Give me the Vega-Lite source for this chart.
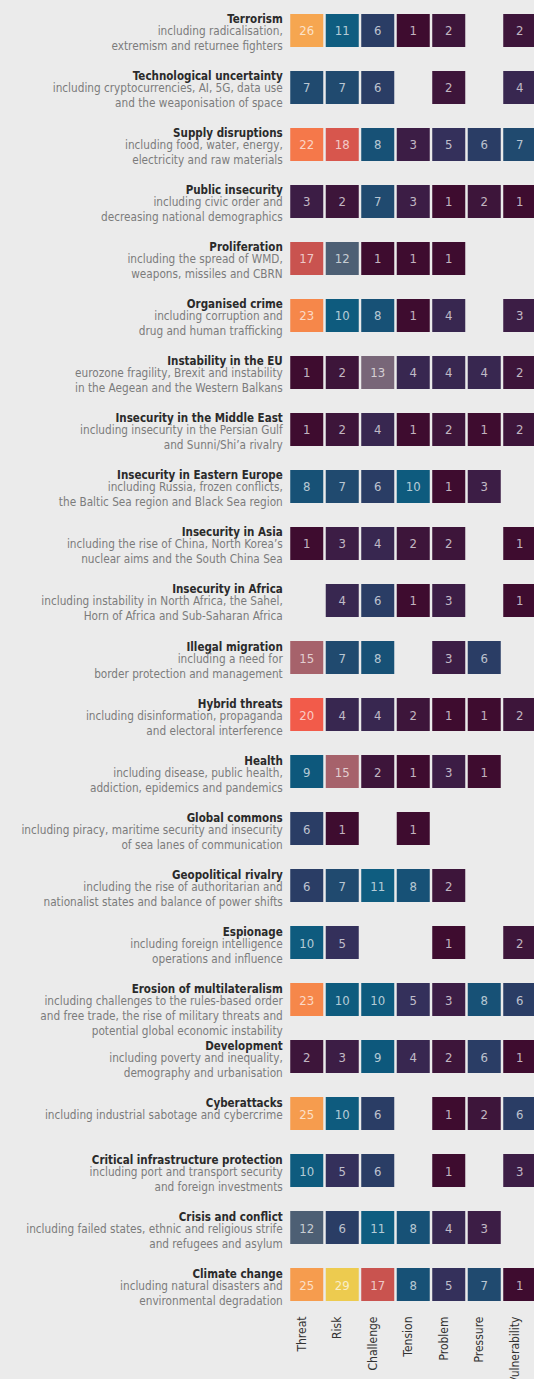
{
  "$schema": "https://vega.github.io/schema/vega-lite/v6.json",
  "autosize": "none",
  "padding": {"left": 289, "top": 2, "right": 0, "bottom": 66},
  "width": 245,
  "height": 1311,
  "background": "#ebebeb",
  "config": {"view": {"stroke": null}, "font": "DejaVu Sans Condensed, sans-serif"},
  "datasets": {
    "cells": [
      {"topic": "Terrorism", "term": "Threat", "n": 26},
      {"topic": "Terrorism", "term": "Risk", "n": 11},
      {"topic": "Terrorism", "term": "Challenge", "n": 6},
      {"topic": "Terrorism", "term": "Tension", "n": 1},
      {"topic": "Terrorism", "term": "Problem", "n": 2},
      {"topic": "Terrorism", "term": "Vulnerability", "n": 2},
      {"topic": "Technological uncertainty", "term": "Threat", "n": 7},
      {"topic": "Technological uncertainty", "term": "Risk", "n": 7},
      {"topic": "Technological uncertainty", "term": "Challenge", "n": 6},
      {"topic": "Technological uncertainty", "term": "Problem", "n": 2},
      {"topic": "Technological uncertainty", "term": "Vulnerability", "n": 4},
      {"topic": "Supply disruptions", "term": "Threat", "n": 22},
      {"topic": "Supply disruptions", "term": "Risk", "n": 18},
      {"topic": "Supply disruptions", "term": "Challenge", "n": 8},
      {"topic": "Supply disruptions", "term": "Tension", "n": 3},
      {"topic": "Supply disruptions", "term": "Problem", "n": 5},
      {"topic": "Supply disruptions", "term": "Pressure", "n": 6},
      {"topic": "Supply disruptions", "term": "Vulnerability", "n": 7},
      {"topic": "Public insecurity", "term": "Threat", "n": 3},
      {"topic": "Public insecurity", "term": "Risk", "n": 2},
      {"topic": "Public insecurity", "term": "Challenge", "n": 7},
      {"topic": "Public insecurity", "term": "Tension", "n": 3},
      {"topic": "Public insecurity", "term": "Problem", "n": 1},
      {"topic": "Public insecurity", "term": "Pressure", "n": 2},
      {"topic": "Public insecurity", "term": "Vulnerability", "n": 1},
      {"topic": "Proliferation", "term": "Threat", "n": 17},
      {"topic": "Proliferation", "term": "Risk", "n": 12},
      {"topic": "Proliferation", "term": "Challenge", "n": 1},
      {"topic": "Proliferation", "term": "Tension", "n": 1},
      {"topic": "Proliferation", "term": "Problem", "n": 1},
      {"topic": "Organised crime", "term": "Threat", "n": 23},
      {"topic": "Organised crime", "term": "Risk", "n": 10},
      {"topic": "Organised crime", "term": "Challenge", "n": 8},
      {"topic": "Organised crime", "term": "Tension", "n": 1},
      {"topic": "Organised crime", "term": "Problem", "n": 4},
      {"topic": "Organised crime", "term": "Vulnerability", "n": 3},
      {"topic": "Instability in the EU", "term": "Threat", "n": 1},
      {"topic": "Instability in the EU", "term": "Risk", "n": 2},
      {"topic": "Instability in the EU", "term": "Challenge", "n": 13},
      {"topic": "Instability in the EU", "term": "Tension", "n": 4},
      {"topic": "Instability in the EU", "term": "Problem", "n": 4},
      {"topic": "Instability in the EU", "term": "Pressure", "n": 4},
      {"topic": "Instability in the EU", "term": "Vulnerability", "n": 2},
      {"topic": "Insecurity in the Middle East", "term": "Threat", "n": 1},
      {"topic": "Insecurity in the Middle East", "term": "Risk", "n": 2},
      {"topic": "Insecurity in the Middle East", "term": "Challenge", "n": 4},
      {"topic": "Insecurity in the Middle East", "term": "Tension", "n": 1},
      {"topic": "Insecurity in the Middle East", "term": "Problem", "n": 2},
      {"topic": "Insecurity in the Middle East", "term": "Pressure", "n": 1},
      {"topic": "Insecurity in the Middle East", "term": "Vulnerability", "n": 2},
      {"topic": "Insecurity in Eastern Europe", "term": "Threat", "n": 8},
      {"topic": "Insecurity in Eastern Europe", "term": "Risk", "n": 7},
      {"topic": "Insecurity in Eastern Europe", "term": "Challenge", "n": 6},
      {"topic": "Insecurity in Eastern Europe", "term": "Tension", "n": 10},
      {"topic": "Insecurity in Eastern Europe", "term": "Problem", "n": 1},
      {"topic": "Insecurity in Eastern Europe", "term": "Pressure", "n": 3},
      {"topic": "Insecurity in Asia", "term": "Threat", "n": 1},
      {"topic": "Insecurity in Asia", "term": "Risk", "n": 3},
      {"topic": "Insecurity in Asia", "term": "Challenge", "n": 4},
      {"topic": "Insecurity in Asia", "term": "Tension", "n": 2},
      {"topic": "Insecurity in Asia", "term": "Problem", "n": 2},
      {"topic": "Insecurity in Asia", "term": "Vulnerability", "n": 1},
      {"topic": "Insecurity in Africa", "term": "Risk", "n": 4},
      {"topic": "Insecurity in Africa", "term": "Challenge", "n": 6},
      {"topic": "Insecurity in Africa", "term": "Tension", "n": 1},
      {"topic": "Insecurity in Africa", "term": "Problem", "n": 3},
      {"topic": "Insecurity in Africa", "term": "Vulnerability", "n": 1},
      {"topic": "Illegal migration", "term": "Threat", "n": 15},
      {"topic": "Illegal migration", "term": "Risk", "n": 7},
      {"topic": "Illegal migration", "term": "Challenge", "n": 8},
      {"topic": "Illegal migration", "term": "Problem", "n": 3},
      {"topic": "Illegal migration", "term": "Pressure", "n": 6},
      {"topic": "Hybrid threats", "term": "Threat", "n": 20},
      {"topic": "Hybrid threats", "term": "Risk", "n": 4},
      {"topic": "Hybrid threats", "term": "Challenge", "n": 4},
      {"topic": "Hybrid threats", "term": "Tension", "n": 2},
      {"topic": "Hybrid threats", "term": "Problem", "n": 1},
      {"topic": "Hybrid threats", "term": "Pressure", "n": 1},
      {"topic": "Hybrid threats", "term": "Vulnerability", "n": 2},
      {"topic": "Health", "term": "Threat", "n": 9},
      {"topic": "Health", "term": "Risk", "n": 15},
      {"topic": "Health", "term": "Challenge", "n": 2},
      {"topic": "Health", "term": "Tension", "n": 1},
      {"topic": "Health", "term": "Problem", "n": 3},
      {"topic": "Health", "term": "Pressure", "n": 1},
      {"topic": "Global commons", "term": "Threat", "n": 6},
      {"topic": "Global commons", "term": "Risk", "n": 1},
      {"topic": "Global commons", "term": "Tension", "n": 1},
      {"topic": "Geopolitical rivalry", "term": "Threat", "n": 6},
      {"topic": "Geopolitical rivalry", "term": "Risk", "n": 7},
      {"topic": "Geopolitical rivalry", "term": "Challenge", "n": 11},
      {"topic": "Geopolitical rivalry", "term": "Tension", "n": 8},
      {"topic": "Geopolitical rivalry", "term": "Problem", "n": 2},
      {"topic": "Espionage", "term": "Threat", "n": 10},
      {"topic": "Espionage", "term": "Risk", "n": 5},
      {"topic": "Espionage", "term": "Problem", "n": 1},
      {"topic": "Espionage", "term": "Vulnerability", "n": 2},
      {"topic": "Erosion of multilateralism", "term": "Threat", "n": 23},
      {"topic": "Erosion of multilateralism", "term": "Risk", "n": 10},
      {"topic": "Erosion of multilateralism", "term": "Challenge", "n": 10},
      {"topic": "Erosion of multilateralism", "term": "Tension", "n": 5},
      {"topic": "Erosion of multilateralism", "term": "Problem", "n": 3},
      {"topic": "Erosion of multilateralism", "term": "Pressure", "n": 8},
      {"topic": "Erosion of multilateralism", "term": "Vulnerability", "n": 6},
      {"topic": "Development", "term": "Threat", "n": 2},
      {"topic": "Development", "term": "Risk", "n": 3},
      {"topic": "Development", "term": "Challenge", "n": 9},
      {"topic": "Development", "term": "Tension", "n": 4},
      {"topic": "Development", "term": "Problem", "n": 2},
      {"topic": "Development", "term": "Pressure", "n": 6},
      {"topic": "Development", "term": "Vulnerability", "n": 1},
      {"topic": "Cyberattacks", "term": "Threat", "n": 25},
      {"topic": "Cyberattacks", "term": "Risk", "n": 10},
      {"topic": "Cyberattacks", "term": "Challenge", "n": 6},
      {"topic": "Cyberattacks", "term": "Problem", "n": 1},
      {"topic": "Cyberattacks", "term": "Pressure", "n": 2},
      {"topic": "Cyberattacks", "term": "Vulnerability", "n": 6},
      {"topic": "Critical infrastructure protection", "term": "Threat", "n": 10},
      {"topic": "Critical infrastructure protection", "term": "Risk", "n": 5},
      {"topic": "Critical infrastructure protection", "term": "Challenge", "n": 6},
      {"topic": "Critical infrastructure protection", "term": "Problem", "n": 1},
      {"topic": "Critical infrastructure protection", "term": "Vulnerability", "n": 3},
      {"topic": "Crisis and conflict", "term": "Threat", "n": 12},
      {"topic": "Crisis and conflict", "term": "Risk", "n": 6},
      {"topic": "Crisis and conflict", "term": "Challenge", "n": 11},
      {"topic": "Crisis and conflict", "term": "Tension", "n": 8},
      {"topic": "Crisis and conflict", "term": "Problem", "n": 4},
      {"topic": "Crisis and conflict", "term": "Pressure", "n": 3},
      {"topic": "Climate change", "term": "Threat", "n": 25},
      {"topic": "Climate change", "term": "Risk", "n": 29},
      {"topic": "Climate change", "term": "Challenge", "n": 17},
      {"topic": "Climate change", "term": "Tension", "n": 8},
      {"topic": "Climate change", "term": "Problem", "n": 5},
      {"topic": "Climate change", "term": "Pressure", "n": 7},
      {"topic": "Climate change", "term": "Vulnerability", "n": 1}
    ],
    "topics": [
      {"topic": "Terrorism", "desc": "including radicalisation,|extremism and returnee fighters"},
      {"topic": "Technological uncertainty", "desc": "including cryptocurrencies, AI, 5G, data use|and the weaponisation of space"},
      {"topic": "Supply disruptions", "desc": "including food, water, energy,|electricity and raw materials"},
      {"topic": "Public insecurity", "desc": "including civic order and|decreasing national demographics"},
      {"topic": "Proliferation", "desc": "including the spread of WMD,|weapons, missiles and CBRN"},
      {"topic": "Organised crime", "desc": "including corruption and|drug and human trafficking"},
      {"topic": "Instability in the EU", "desc": "eurozone fragility, Brexit and instability|in the Aegean and the Western Balkans"},
      {"topic": "Insecurity in the Middle East", "desc": "including insecurity in the Persian Gulf|and Sunni/Shi’a rivalry"},
      {"topic": "Insecurity in Eastern Europe", "desc": "including Russia, frozen conflicts,|the Baltic Sea region and Black Sea region"},
      {"topic": "Insecurity in Asia", "desc": "including the rise of China, North Korea’s|nuclear aims and the South China Sea"},
      {"topic": "Insecurity in Africa", "desc": "including instability in North Africa, the Sahel,|Horn of Africa and Sub-Saharan Africa"},
      {"topic": "Illegal migration", "desc": "including a need for|border protection and management"},
      {"topic": "Hybrid threats", "desc": "including disinformation, propaganda|and electoral interference"},
      {"topic": "Health", "desc": "including disease, public health,|addiction, epidemics and pandemics"},
      {"topic": "Global commons", "desc": "including piracy, maritime security and insecurity|of sea lanes of communication"},
      {"topic": "Geopolitical rivalry", "desc": "including the rise of authoritarian and|nationalist states and balance of power shifts"},
      {"topic": "Espionage", "desc": "including foreign intelligence|operations and influence"},
      {"topic": "Erosion of multilateralism", "desc": "including challenges to the rules-based order|and free trade, the rise of military threats and|potential global economic instability"},
      {"topic": "Development", "desc": "including poverty and inequality,|demography and urbanisation"},
      {"topic": "Cyberattacks", "desc": "including industrial sabotage and cybercrime"},
      {"topic": "Critical infrastructure protection", "desc": "including port and transport security|and foreign investments"},
      {"topic": "Crisis and conflict", "desc": "including failed states, ethnic and religious strife|and refugees and asylum"},
      {"topic": "Climate change", "desc": "including natural disasters and|environmental degradation"}
    ]
  },
  "data": {"name": "cells"},
  "encoding": {
    "y": {
      "field": "topic",
      "type": "nominal",
      "axis": null,
      "scale": {
        "domain": ["Terrorism", "Technological uncertainty", "Supply disruptions", "Public insecurity", "Proliferation", "Organised crime", "Instability in the EU", "Insecurity in the Middle East", "Insecurity in Eastern Europe", "Insecurity in Asia", "Insecurity in Africa", "Illegal migration", "Hybrid threats", "Health", "Global commons", "Geopolitical rivalry", "Espionage", "Erosion of multilateralism", "Development", "Cyberattacks", "Critical infrastructure protection", "Crisis and conflict", "Climate change"],
        "paddingInner": 0.421,
        "paddingOuter": 0.21
      }
    }
  },
  "layer": [
    {
      "mark": {"type": "rect"},
      "encoding": {
        "x": {
          "field": "term",
          "type": "nominal",
          "scale": {
            "domain": ["Threat", "Risk", "Challenge", "Tension", "Problem", "Pressure", "Vulnerability"],
            "range": [0, 248.5],
            "paddingInner": 0.07,
            "paddingOuter": 0.035
          },
          "axis": {
            "title": null,
            "orient": "bottom",
            "labelAngle": -90,
            "labelAlign": "right",
            "labelBaseline": "middle",
            "labelOffset": -5,
            "labelPadding": 3,
            "labelFontSize": 12,
            "labelColor": "#333333",
            "labelFont": "DejaVu Sans Condensed, sans-serif",
            "domain": false,
            "ticks": false,
            "grid": false
          }
        },
        "color": {
          "field": "n",
          "type": "quantitative",
          "legend": null,
          "scale": {
            "domain": [1, 3, 5, 7, 9, 11, 12, 13, 15, 17, 20, 23, 26, 29],
            "range": ["#3e0c2f", "#3c1d45", "#34305b", "#204a6f", "#0d587c", "#0f5d80", "#4d5f74", "#786678", "#a6626b", "#c9534f", "#f25b4a", "#f6874a", "#f6a650", "#edcb4f"],
            "interpolate": "rgb"
          }
        }
      }
    },
    {
      "mark": {"type": "text", "align": "center", "baseline": "middle", "fontSize": 13, "fill": "#ffffff", "fillOpacity": 0.7, "dy": 1},
      "encoding": {
        "x": {"field": "term", "type": "nominal"},
        "text": {"field": "n", "type": "quantitative"}
      }
    },
    {
      "data": {"name": "topics"},
      "mark": {"type": "text", "align": "right", "baseline": "alphabetic", "fontSize": 11.5, "fontWeight": "bold", "fill": "#2a2a2a", "dx": -24, "dy": -7},
      "encoding": {
        "x": {"datum": "Threat", "type": "nominal"},
        "text": {"field": "topic", "type": "nominal"}
      }
    },
    {
      "data": {"name": "topics"},
      "mark": {"type": "text", "align": "right", "baseline": "alphabetic", "fontSize": 11.7, "fill": "#7b7b7b", "dx": -24, "dy": 5, "lineBreak": "|", "lineHeight": 15},
      "encoding": {
        "x": {"datum": "Threat", "type": "nominal"},
        "text": {"field": "desc", "type": "nominal"}
      }
    }
  ]
}
